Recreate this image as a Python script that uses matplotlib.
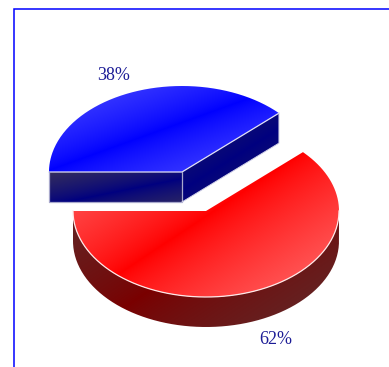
import numpy as np
import matplotlib
matplotlib.use("Agg")
import matplotlib.pyplot as plt
from matplotlib.path import Path
from matplotlib.patches import PathPatch

labels = ["38%", "62%"]
values = [38, 62]

W, H = 389, 367
RX, RY, DEPTH = 133, 86, 30
BLUE_C = (182, 172)
RED_C = (206, 211)

fig = plt.figure(figsize=(W / 100, H / 100), dpi=100)
ax = fig.add_axes([0, 0, 1, 1])
ax.set_xlim(0, W)
ax.set_ylim(H, 0)
ax.axis("off")

yy, xx = np.mgrid[0:H, 0:W] + 0.5


def arc(center, a0, a1, dy=0, n=200):
    # points on the ellipse, angles in degrees, counter-clockwise on screen
    t = np.radians(np.linspace(a0, a1, n))
    return np.column_stack([center[0] + RX * np.cos(t), center[1] + dy - RY * np.sin(t)])


def fill_gradient(verts, p0, slope, base, edge, spread, z):
    # colour is base on the line through p0 and moves towards edge away from it
    d = np.abs((yy - p0[1]) - slope * (xx - p0[0])) / np.hypot(1, slope)
    t = np.clip(d / spread, 0, 1)[..., None] ** 0.8
    img = np.array(base) + (np.array(edge) - np.array(base)) * t
    im = ax.imshow(img / 255, extent=(0, W, H, 0), interpolation="bilinear", zorder=z, aspect="auto")
    verts = np.vstack([verts, verts[:1]])
    patch = PathPatch(Path(verts), transform=ax.transData, fc="none", ec="none")
    ax.add_patch(patch)
    im.set_clip_path(patch)


# angles of the two slices, blue ends on the left of the ellipse
blue_sweep = 360 * values[0] / sum(values)
split = 180 - blue_sweep

ax.plot([14.5, 14.5, W], [H, 8.5, 8.5], color="#0000ff", lw=1.1, zorder=1, solid_joinstyle="miter")

# red slice: side wall, then top
top_r = arc(RED_C, 180, 360 + split)
side_r = np.vstack([arc(RED_C, 180, 360), arc(RED_C, 360, 180, dy=DEPTH)])
fill_gradient(side_r, (120, 310), -0.66, (122, 0, 0), (95, 42, 42), 130, 2)
top_poly = np.vstack([top_r, RED_C])
fill_gradient(top_poly, (120, 273), -0.66, (255, 0, 0), (255, 85, 85), 105, 3)
front = arc(RED_C, 180, 360)
ax.plot(front[:, 0], front[:, 1], color="#ffe8e8", lw=0.9, zorder=4)

# blue slice: front and right faces, then top
top_b = arc(BLUE_C, split, 180)
cut_end = top_b[0]
left_end = top_b[-1]
front_face = np.array([left_end, BLUE_C, (BLUE_C[0], BLUE_C[1] + DEPTH), (left_end[0], left_end[1] + DEPTH)])
right_face = np.array([BLUE_C, cut_end, (cut_end[0], cut_end[1] + DEPTH), (BLUE_C[0], BLUE_C[1] + DEPTH)])
fill_gradient(front_face, (50, 205), -0.2, (0, 0, 128), (48, 42, 96), 30, 5)
fill_gradient(right_face, (182, 190), -0.63, (0, 0, 128), (18, 18, 110), 40, 5)
fill_gradient(np.vstack([top_b, BLUE_C]), (50, 170), -0.36, (0, 0, 255), (62, 62, 255), 62, 6)

ax.plot(*np.array([left_end, BLUE_C, cut_end]).T, color="#e0e0f4", lw=0.9, zorder=7)
ax.plot(*front_face[[1, 2, 3, 0]].T, color="#a8a8cc", lw=0.9, zorder=7)
ax.plot(*right_face[[1, 2, 3]].T, color="#d0d0e8", lw=0.7, zorder=7)

text_font = ["Liberation Serif"]
ax.text(114, 75, labels[0], color="#1c1c96", fontsize=13, family=text_font, ha="center", va="center", zorder=8)
ax.text(276, 340, labels[1], color="#1c1c96", fontsize=13, family=text_font, ha="center", va="center", zorder=8)

fig.savefig("out.png", dpi=100)
